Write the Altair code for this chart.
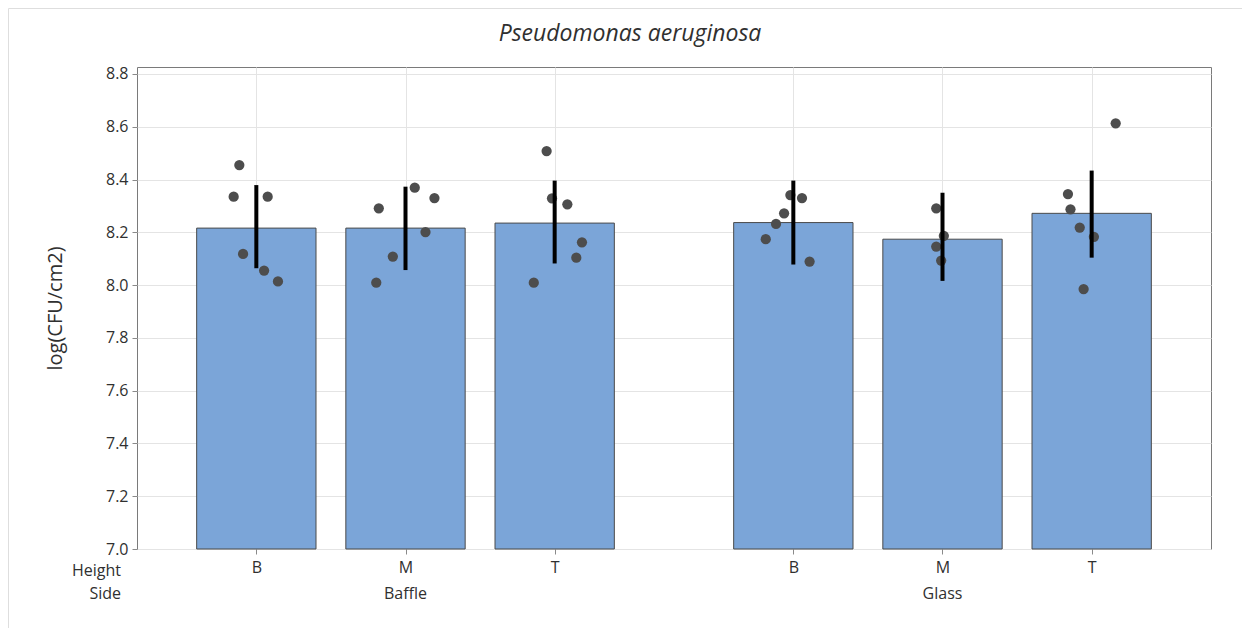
import altair as alt
import pandas as pd

chart_title = "Pseudomonas aeruginosa"
y_title = "log(CFU/cm2)"

# one entry per bar
sides = ["Baffle", "Baffle", "Baffle", "Glass", "Glass", "Glass"]
heights = ["B", "M", "T", "B", "M", "T"]
means = [8.216, 8.216, 8.235, 8.237, 8.174, 8.272]
int_low = [8.064, 8.057, 8.082, 8.078, 8.016, 8.104]
int_high = [8.379, 8.373, 8.396, 8.396, 8.350, 8.434]

# individual observations (bar index, value, horizontal jitter in bar steps)
pt_group = [0] * 6 + [1] * 6 + [2] * 6 + [3] * 6 + [4] * 4 + [5] * 6
pt_value = [
    8.455, 8.335, 8.335, 8.118, 8.055, 8.014,
    8.291, 8.369, 8.330, 8.201, 8.108, 8.009,
    8.508, 8.329, 8.306, 8.162, 8.104, 8.009,
    8.174, 8.232, 8.272, 8.341, 8.330, 8.089,
    8.291, 8.187, 8.146, 8.093,
    8.613, 8.345, 8.287, 8.218, 8.183, 7.985,
]
pt_jitter = [
    -0.114, -0.152, 0.076, -0.089, 0.052, 0.145,
    -0.179, 0.062, 0.194, 0.134, -0.085, -0.196,
    -0.054, -0.018, 0.085, 0.183, 0.145, -0.140,
    -0.185, -0.116, -0.062, -0.020, 0.058, 0.109,
    -0.042, 0.009, -0.042, -0.009,
    0.161, -0.159, -0.142, -0.080, 0.015, -0.054,
]
y_ticks = [7.0, 7.2, 7.4, 7.6, 7.8, 8.0, 8.2, 8.4, 8.6, 8.8]
row_labels = ["Height", "Side"]

side_order = ["Baffle", "Glass"]
height_order = ["B", "M", "T"]
SIDE_GAP = 3.6

W, H = 1074, 482
FONT = "Open Sans"
TXT = "#303030"
LFS = 16


def pos_of(i):
    return side_order.index(sides[i]) * SIDE_GAP + height_order.index(heights[i]) + 1


positions = [pos_of(i) for i in range(len(sides))]
bars = pd.DataFrame({"side": sides, "height": heights, "mean": means,
                     "lo": int_low, "hi": int_high, "pos": positions})
pts = pd.DataFrame({"value": pt_value,
                    "pos": [positions[g] + j for g, j in zip(pt_group, pt_jitter)]})
side_lab = bars.groupby("side", as_index=False)["pos"].mean()

label_map = ", ".join(f"'{p:.1f}': '{h}'" for p, h in zip(positions, heights))
label_expr = "({" + label_map + "})[format(datum.value, '.1f')]"

xs = alt.Scale(domain=[0.2, 7.4], nice=False, zero=False)
ys = alt.Scale(domain=[7.0, 8.8265], nice=False, zero=False)

x_axis = alt.Axis(values=positions, labelExpr=label_expr, title=None, grid=True,
                  gridColor="#e4e4e4", tickColor="#8a8a8a", tickSize=5, domain=False,
                  labelFont=FONT, labelFontSize=LFS, labelColor=TXT, labelPadding=5)
y_axis = alt.Axis(values=y_ticks, format=".1f", title=y_title, grid=True,
                  gridColor="#e4e4e4", tickColor="#8a8a8a", tickSize=5, domain=False,
                  labelFont=FONT, labelFontSize=LFS, labelColor=TXT, labelPadding=4,
                  titleFont=FONT, titleFontSize=20, titleFontWeight="normal",
                  titleColor=TXT, titleX=-82, titleY=H / 2, titleAngle=-90,
                  titleAlign="center", titleBaseline="middle")

bar_layer = alt.Chart(bars).transform_calculate(
    x0="datum.pos - 0.4", x1="datum.pos + 0.4"
).mark_bar(color="#7BA5D8", stroke="#4a4a4a", strokeWidth=1).encode(
    x=alt.X("x0:Q", scale=xs, axis=x_axis),
    x2="x1:Q",
    y=alt.Y("mean:Q", scale=ys, axis=y_axis),
    y2=alt.datum(7.0),
)

pt_layer = alt.Chart(pts).mark_circle(size=105, color="#4d4d4d", opacity=1).encode(
    x=alt.X("pos:Q", scale=xs, axis=x_axis),
    y=alt.Y("value:Q", scale=ys, axis=y_axis),
)

err_layer = alt.Chart(bars).mark_rule(color="black", strokeWidth=4).encode(
    x=alt.X("pos:Q", scale=xs, axis=x_axis),
    y=alt.Y("lo:Q", scale=ys, axis=y_axis),
    y2="hi:Q",
)

side_text = alt.Chart(side_lab).mark_text(
    font=FONT, fontSize=LFS, color=TXT, baseline="middle", align="center"
).encode(
    x=alt.X("pos:Q", scale=xs, axis=x_axis),
    y=alt.value(H + 45),
    text="side:N",
)

row_df = pd.DataFrame({"label": row_labels})
height_row = alt.Chart(row_df).transform_filter("datum.label == 'Height'").mark_text(
    font=FONT, fontSize=LFS, color=TXT, baseline="middle", align="right"
).encode(x=alt.value(-16), y=alt.value(H + 22), text="label:N")
side_row = alt.Chart(row_df).transform_filter("datum.label == 'Side'").mark_text(
    font=FONT, fontSize=LFS, color=TXT, baseline="middle", align="right"
).encode(x=alt.value(-16), y=alt.value(H + 45), text="label:N")

title_df = pd.DataFrame({"t": [chart_title]})
title_text = alt.Chart(title_df).mark_text(
    font=FONT, fontSize=23, fontStyle="italic", color=TXT,
    baseline="alphabetic", align="center"
).encode(x=alt.value(W / 2 - 44), y=alt.value(-26), text="t:N")

frame_df = pd.DataFrame({"k": [0]})
frame_left = alt.Chart(frame_df).mark_rule(color="#dedede", strokeWidth=1).encode(
    x=alt.value(-128.5), y=alt.value(-58.5), y2=alt.value(H + 80))
frame_top = alt.Chart(frame_df).mark_rule(color="#dedede", strokeWidth=1).encode(
    x=alt.value(-128.5), x2=alt.value(W + 31), y=alt.value(-58.5))

chart = alt.layer(
    bar_layer, pt_layer, err_layer, side_text, height_row, side_row, title_text,
    frame_left, frame_top
).properties(
    width=W,
    height=H,
    autosize=alt.AutoSizeParams(type="none"),
    padding={"left": 129, "top": 59, "right": 31, "bottom": 79},
).configure_view(stroke="#7a7a7a", strokeWidth=1)

chart.save("out.html", embed_options={"renderer": "svg", "actions": False})
